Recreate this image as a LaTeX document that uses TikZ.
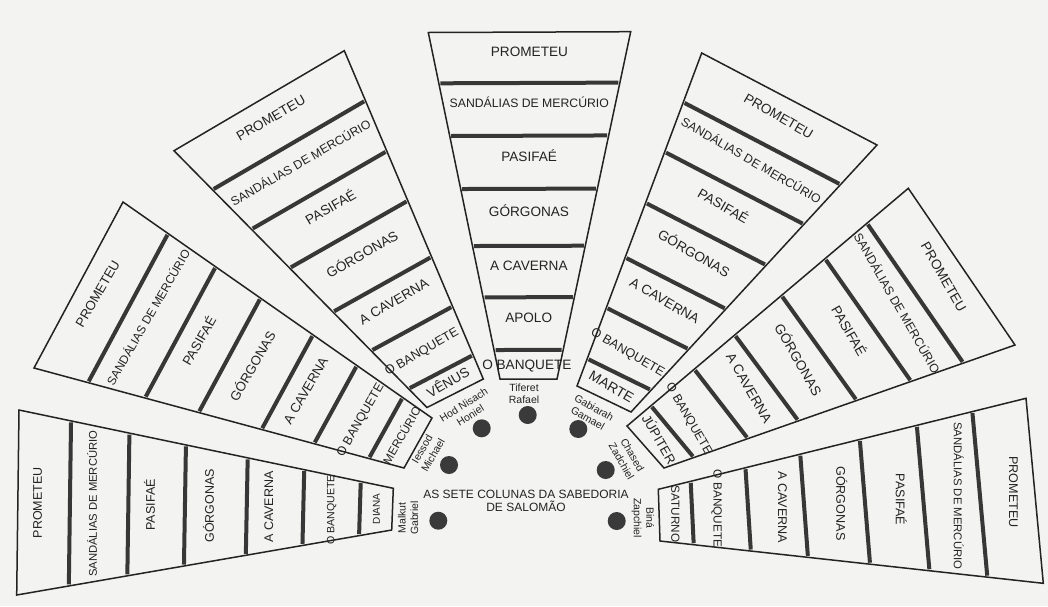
\documentclass[tikz,border=0pt]{standalone}
\usepackage{fontspec}
\setmainfont{Liberation Sans}
\usetikzlibrary{calc}
\definecolor{paper}{RGB}{243,243,241}
\definecolor{ink}{RGB}{35,35,35}
\definecolor{bar}{RGB}{55,55,55}
\definecolor{dotc}{RGB}{58,58,58}
\tikzset{
  fanline/.style={draw=ink, line width=1.5pt, line join=miter},
  divider/.style={draw=bar, line width=4pt, shorten <=1.5pt, shorten >=1.5pt},
  lbl/.style={inner sep=0pt, outer sep=0pt, text=ink, text depth=0pt},
  small/.style={inner sep=0pt, text=ink, align=center, font=\fontsize{10.5}{12.5}\selectfont},
  ttl/.style={inner sep=0pt, text=ink, align=center, font=\fontsize{12}{12.7}\selectfont},
  col/.style={circle, fill=dotc, minimum size=18pt, inner sep=0pt},
}
% #1 name, #2 rotation, #3-#8 divider fractions (inner->outer), #9 font size
\newcommand\fandraw[9]{%
  \coordinate (#1im) at ($(#1il)!0.5!(#1ir)$);
  \coordinate (#1om) at ($(#1ol)!0.5!(#1or)$);
  \draw[fanline] (#1il) -- (#1ol) -- (#1or) -- (#1ir) -- cycle;
  \foreach \t in {#3,#4,#5,#6,#7,#8}
    \draw[divider] ($(#1il)!\t!(#1ol)$) -- ($(#1ir)!\t!(#1or)$);
  \pgfmathsetmacro\th{0.716*#9}%
  \pgfmathsetmacro\sz{0.9*#9}%
  \pgfmathsetmacro\ths{0.716*\sz}%
  \pgfmathsetmacro\mC{(#4+#5)/2+0.017}%
  \pgfmathsetmacro\mG{(#5+#6)/2+0.017}%
  \pgfmathsetmacro\mP{(#6+#7)/2+0.017}%
  \pgfmathsetmacro\mS{(#7+#8)/2+0.017}%
  \pgfmathsetmacro\mR{(#8+1)/2+0.017}%
  \node[lbl, rotate=#2, font=\fontsize{#9}{#9}\selectfont, text height=\th pt] (#1-cav) at ($(#1im)!\mC!(#1om)$) {A CAVERNA};
  \node[lbl, rotate=#2, font=\fontsize{#9}{#9}\selectfont, text height=\th pt] (#1-gor) at ($(#1im)!\mG!(#1om)$) {GÓRGONAS};
  \node[lbl, rotate=#2, font=\fontsize{#9}{#9}\selectfont, text height=\th pt] (#1-pas) at ($(#1im)!\mP!(#1om)$) {PASIFAÉ};
  \node[lbl, rotate=#2, font=\fontsize{\sz}{\sz}\selectfont, text height=\ths pt] (#1-san) at ($(#1im)!\mS!(#1om)$) {SANDÁLIAS DE MERCÚRIO};
  \node[lbl, rotate=#2, font=\fontsize{#9}{#9}\selectfont, text height=\th pt] (#1-pro) at ($(#1im)!\mR!(#1om)$) {PROMETEU};
}
% #1 name, #2 rotation, #3 t1, #4 t2, #5 banquete size, #6 planet size, #7 planet
\newcommand\stdinner[7]{%
  \pgfmathsetmacro\mB{(#3+#4)/2}%
  \pgfmathsetmacro\mV{#3/2}%
  \pgfmathsetmacro\thB{0.716*#5}%
  \pgfmathsetmacro\thV{0.716*#6}%
  \pgfmathsetmacro\oB{-0.389*#5}%
  \coordinate (#1bl) at ($(#1il)!\mB!(#1ol)$);
  \coordinate (#1br) at ($(#1ir)!\mB!(#1or)$);
  \node[lbl, rotate=#2, anchor=west, font=\fontsize{#5}{#5}\selectfont, text height=\thB pt] (#1-ban) at ($(#1bl)!\oB pt!(#1br)$) {O BANQUETE};
  \node[lbl, rotate=#2, font=\fontsize{#6}{#6}\selectfont, text height=\thV pt] (#1-pla) at ($(#1im)!\mV!(#1om)$) {#7};
}
\begin{document}
\begin{tikzpicture}[x=1pt, y=-1pt]
\fill[paper] (0,0) rectangle (1048,606);
\useasboundingbox (0,0) rectangle (1048,606);

% Diana fan
\coordinate (Ail) at (391.7,530);
\coordinate (Air) at (393.3,488.3);
\coordinate (Aol) at (16.7,595);
\coordinate (Aor) at (19,410);
\fandraw{A}{90}{0.087}{0.238}{0.389}{0.554}{0.705}{0.861}{12.5}
\stdinner{A}{90}{0.087}{0.238}{10.6}{10}{DIANA}

% Mercurio fan
\coordinate (Bil) at (404,468);
\coordinate (Bir) at (432,418);
\coordinate (Bol) at (34,368);
\coordinate (Bor) at (123,202);
\fandraw{B}{60}{0.095}{0.243}{0.385}{0.555}{0.700}{0.854}{13.2}
\stdinner{B}{60}{0.095}{0.243}{12.5}{11.7}{MERCÚRIO}

% Venus fan
\coordinate (Cil) at (427,407.5);
\coordinate (Cir) at (483.3,379);
\coordinate (Col) at (174,150.7);
\coordinate (Cor) at (344.3,50.7);
\fandraw{C}{30}{0.073}{0.221}{0.372}{0.543}{0.694}{0.848}{13.6}
\stdinner{C}{30}{0.073}{0.221}{12.6}{13.5}{VÊNUS}

% Central fan
\coordinate (Dil) at (500,379);
\coordinate (Dir) at (557,379);
\coordinate (Dol) at (428.3,32.5);
\coordinate (Dor) at (630.7,31.7);
\fandraw{D}{0}{0.0837}{0.2357}{0.3838}{0.5483}{0.7013}{0.8534}{13.6}
\coordinate (Dbl) at ($(Dil)!0.042!(Dol)$);
\coordinate (Dbr) at ($(Dir)!0.042!(Dor)$);
\node[lbl, anchor=west, font=\fontsize{13.6}{13.6}\selectfont, text height=9.74pt] (D-ban) at ($(Dbl)!-14.7pt!(Dbr)$) {O BANQUETE};
\node[lbl, font=\fontsize{13.6}{13.6}\selectfont, text height=9.74pt] (D-apo) at ($(Dim)!0.177!(Dom)$) {APOLO};

% Marte fan
\coordinate (Eil) at (577,386);
\coordinate (Eir) at (631,412);
\coordinate (Eol) at (701.7,53);
\coordinate (Eor) at (877,145);
\fandraw{E}{-30}{0.082}{0.235}{0.386}{0.550}{0.703}{0.852}{13.6}
\stdinner{E}{-30}{0.082}{0.235}{12.6}{14}{MARTE}

% Jupiter fan
\coordinate (Fil) at (627,426);
\coordinate (Fir) at (664,468);
\coordinate (Fol) at (908.3,188.3);
\coordinate (For) at (1015,345);
\fandraw{F}{-60}{0.085}{0.239}{0.383}{0.549}{0.704}{0.853}{13.6}
\stdinner{F}{-60}{0.085}{0.239}{12.2}{13}{JÚPITER}

% Saturno fan
\coordinate (Gil) at (658.3,489.3);
\coordinate (Gir) at (660,541);
\coordinate (Gol) at (1026,398.3);
\coordinate (Gor) at (1043.3,583.3);
\fandraw{G}{-90}{0.088}{0.237}{0.386}{0.548}{0.703}{0.854}{12.6}
\stdinner{G}{-90}{0.088}{0.237}{11.8}{11.7}{SATURNO}

% seven columns
\node[col] (c1) at (527.7,415) {};
\node[col] (c2) at (481.7,428.3) {};
\node[col] (c3) at (578.3,429) {};
\node[col] (c4) at (449,465) {};
\node[col] (c5) at (605.7,470) {};
\node[col] (c6) at (438.3,520.7) {};
\node[col] (c7) at (616.7,521) {};

% sephirot / angel names
\node[small] (tif) at (524,393.5) {Tiferet\\Rafael};
\node[small, rotate=32] (hod) at (467,410) {Hod Nisach\\Honiel};
\node[small, rotate=60] (ies) at (427.5,452) {Iessod\\Michael};
\node[small, rotate=90] (mal) at (408,518) {Malkut\\Gabriel};
\node[small, rotate=-30] (gab) at (591,413) {Gabiarah\\Gamael};
\node[small, rotate=-60] (cha) at (627,458) {Chased\\Zadchiel};
\node[small, rotate=-90] (bin) at (643,518) {Biná\\Zapchiel};

\node[ttl] (title) at (526,500.6) {AS SETE COLUNAS DA SABEDORIA\\DE SALOMÃO};
\end{tikzpicture}
\end{document}
